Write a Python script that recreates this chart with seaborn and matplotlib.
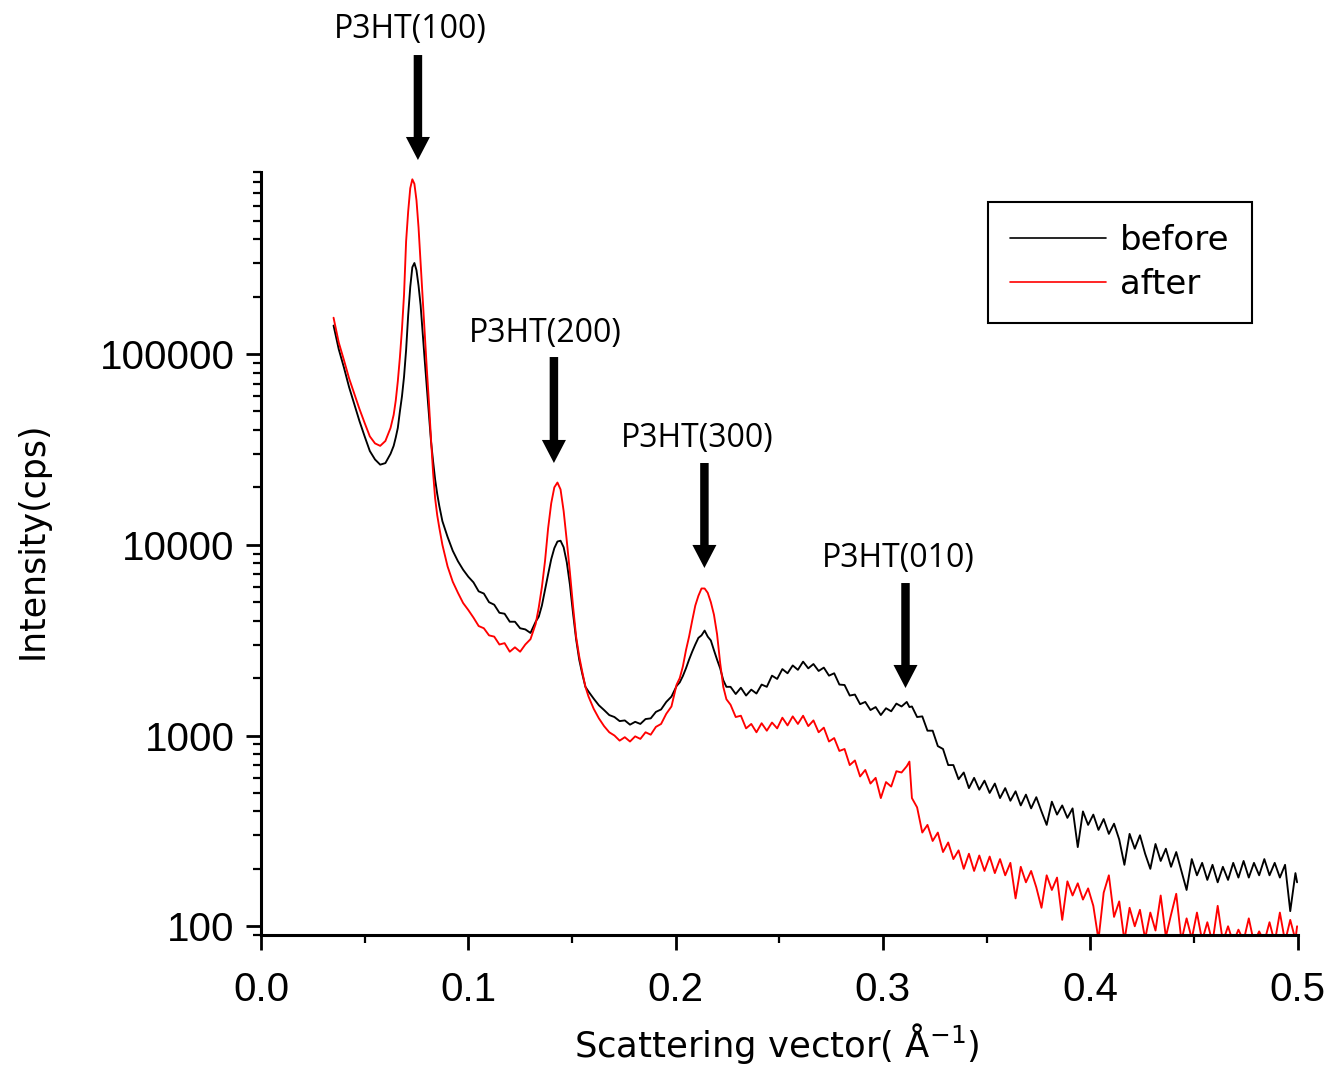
import matplotlib
matplotlib.use("Agg")
import numpy as np
import pandas as pd
import matplotlib.pyplot as plt
import seaborn as sns
from matplotlib.ticker import MultipleLocator, LogLocator, FuncFormatter, NullFormatter, FormatStrFormatter
from matplotlib.font_manager import FontProperties

# ---------------- data ----------------
q_values = [
    0.035, 0.0375, 0.040, 0.0425, 0.045, 0.0475, 0.050, 0.0525, 0.055, 0.0575, 0.060, 0.0625,
    0.064, 0.065, 0.066, 0.067, 0.068, 0.069, 0.070, 0.071, 0.072, 0.073, 0.074, 0.075,
    0.076, 0.077, 0.078, 0.079, 0.080, 0.081, 0.082, 0.083, 0.084, 0.085, 0.086,
    0.0875, 0.090, 0.0925, 0.095, 0.0975, 0.100, 0.1025, 0.105, 0.1075, 0.110,
    0.1125, 0.115, 0.1175, 0.120, 0.1225, 0.125, 0.1275, 0.130, 0.1325,
    0.134, 0.1355, 0.137, 0.1385, 0.140, 0.1415, 0.143, 0.1445,
    0.146, 0.1475, 0.149, 0.1505, 0.152, 0.1535, 0.155, 0.1565,
    0.158, 0.1605, 0.163, 0.1655, 0.168, 0.1705, 0.173, 0.1755, 0.178,
    0.1805, 0.183, 0.1855, 0.188, 0.1905, 0.193, 0.1955, 0.198, 0.2005,
    0.202, 0.2035, 0.205, 0.2065, 0.208, 0.2095, 0.211, 0.2125,
    0.214, 0.2155, 0.217, 0.2185, 0.220, 0.2215, 0.223, 0.2245,
    0.2265, 0.2290, 0.2315, 0.2340, 0.2365, 0.2390, 0.2415, 0.2440, 0.2465, 0.2490,
    0.2515, 0.2540, 0.2565, 0.2590, 0.2615, 0.2640, 0.2665, 0.2690, 0.2715, 0.2740,
    0.2765, 0.2790, 0.2815, 0.2840, 0.2865, 0.2890, 0.2915, 0.2940, 0.2965, 0.2990,
    0.3015, 0.3040, 0.3065, 0.3090, 0.3115, 0.3128, 0.3140, 0.3165, 0.3190, 0.3215, 0.3240,
    0.3265, 0.3290, 0.3315, 0.3340, 0.3365, 0.3390, 0.3415, 0.3440, 0.3465, 0.3490,
    0.3515, 0.3540, 0.3565, 0.3590, 0.3615, 0.3640, 0.3665, 0.3690, 0.3715, 0.3740,
    0.3765, 0.3790, 0.3815, 0.3840, 0.3865, 0.3890, 0.3915, 0.3940, 0.3965, 0.3990,
    0.4015, 0.4040, 0.4065, 0.4090, 0.4115, 0.4140, 0.4165, 0.4190, 0.4215, 0.4240,
    0.4265, 0.4290, 0.4315, 0.4340, 0.4365, 0.4390, 0.4415, 0.4440, 0.4465, 0.4490,
    0.4515, 0.4540, 0.4565, 0.4590, 0.4615, 0.4640, 0.4665, 0.4690, 0.4715, 0.4740,
    0.4765, 0.4790, 0.4815, 0.4840, 0.4865, 0.4890, 0.4915, 0.4940, 0.4965, 0.4990,
    0.4998,
]

before_cps = [
    141000, 106000, 85000, 67000, 54500, 44500, 37000, 31000, 28000, 26300, 26800, 30000,
    33000, 36500, 41000, 50000, 60000, 76000, 105000, 160000, 225000, 285000, 300000, 275000,
    228000, 180000, 128000, 92000, 67000, 48000, 35000, 27500, 22000, 18500, 16000,
    13300, 11000, 9300, 8200, 7400, 6800, 6350, 5700, 5550, 5000,
    4850, 4400, 4350, 3950, 3950, 3650, 3600, 3450, 3950,
    4200, 4800, 5800, 7000, 8400, 9600, 10400, 10500,
    9700, 8100, 6200, 4400, 3200, 2500, 2100, 1800,
    1700, 1560, 1440, 1360, 1280, 1250, 1190, 1200, 1140,
    1180, 1150, 1220, 1230, 1330, 1370, 1500, 1600, 1820,
    1900, 2050, 2250, 2500, 2750, 3000, 3250, 3350,
    3550, 3300, 3150, 2800, 2500, 2250, 1950, 1800,
    1800, 1650, 1780, 1620, 1740, 1660, 1850, 1800, 2060, 1980,
    2230, 2120, 2330, 2210, 2440, 2250, 2370, 2180, 2270, 2060,
    2120, 1850, 1840, 1620, 1640, 1460, 1500, 1360, 1410, 1280,
    1390, 1340, 1470, 1420, 1500, 1410, 1420, 1250, 1260, 1060, 1060,
    880, 850, 700, 700, 590, 640, 530, 600, 520, 580,
    500, 560, 470, 530, 455, 510, 430, 490, 415, 475,
    400, 340, 450, 385, 430, 370, 415, 260, 400, 340,
    385, 320, 365, 305, 345, 285, 210, 305, 255, 300,
    240, 200, 270, 220, 255, 205, 245, 195, 155, 225,
    185, 215, 175, 210, 170, 205, 175, 215, 180, 220,
    180, 215, 185, 225, 185, 215, 180, 210, 120, 190,
    170,
]

after_cps = [
    155000, 115000, 93000, 74500, 62000, 51500, 43500, 37000, 34000, 33000, 35000, 41000,
    48000, 57000, 72000, 96000, 135000, 205000, 390000, 560000, 740000, 824000, 780000, 640000,
    460000, 300000, 192000, 125000, 83000, 56000, 36000, 24000, 17500, 14300, 12300,
    10000, 7700, 6400, 5600, 4950, 4550, 4150, 3750, 3650, 3350,
    3300, 3000, 3050, 2750, 2900, 2750, 3000, 3200, 3850,
    4700, 6000, 8200, 12200, 16500, 20000, 21200, 19500,
    15000, 10500, 7200, 4800, 3300, 2600, 2150, 1800,
    1600, 1380, 1230, 1120, 1040, 1000, 940, 980, 930,
    990, 960, 1040, 1010, 1110, 1150, 1300, 1420, 1850,
    2000, 2300, 2800, 3300, 4000, 4800, 5400, 5900,
    5900, 5600, 5000, 4300, 3400, 2400, 1800, 1550,
    1450, 1250, 1270, 1090, 1150, 1040, 1160, 1060, 1170, 1090,
    1240, 1130, 1260, 1150, 1270, 1120, 1200, 1040, 1100, 930,
    970, 830, 850, 700, 740, 610, 660, 560, 600, 470,
    570, 540, 650, 640, 690, 730, 470, 420, 310, 340, 280,
    310, 245, 275, 225, 250, 200, 240, 195, 235, 195,
    232, 190, 225, 185, 215, 140, 205, 170, 195, 160,
    125, 185, 155, 180, 108, 172, 145, 168, 138, 158,
    128, 85, 150, 185, 112, 135, 84, 125, 100, 122,
    86, 118, 95, 145, 88, 115, 148, 84, 110, 86,
    118, 84, 105, 82, 128, 83, 100, 82, 96, 84,
    110, 82, 94, 83, 105, 82, 118, 83, 108, 85,
    100,
]

sample_names = ["before", "after"]
peak_labels = ["P3HT(100)", "P3HT(200)", "P3HT(300)", "P3HT(010)"]

# ---------------- layout / style ----------------
line_colors = {"before": "#000000", "after": "#ff0000"}
arrow_x = [0.0757, 0.1413, 0.2139, 0.3109]
arrow_tip = [1.0157, 0.6186, 0.4810, 0.3237]     # axes fraction
arrow_tail = [1.1533, 0.7575, 0.6186, 0.4613]    # axes fraction
label_x = [0.0718, 0.1373, 0.2106, 0.3075]
label_y = [1.1756, 0.7776, 0.6400, 0.4823]       # axes fraction (baseline)

sns.set_style("ticks")
plt.rcParams["font.family"] = ["Liberation Sans", "DejaVu Sans"]
plt.rcParams["mathtext.fontset"] = "dejavusans"
plt.rcParams["text.color"] = "black"
plt.rcParams["axes.labelcolor"] = "black"
plt.rcParams["xtick.color"] = "black"
plt.rcParams["ytick.color"] = "black"
plt.rcParams["axes.edgecolor"] = "black"

W, H = 1327, 1074
fig = plt.figure(figsize=(W / 100, H / 100), dpi=100)
ax = fig.add_axes([261 / W, 139 / H, 1036.5 / W, 763 / H])
ax.set_yscale("log")

n = len(q_values)
df = pd.DataFrame({
    "q": q_values * 2,
    "intensity": before_cps + after_cps,
    "sample": ["before"] * n + ["after"] * n,
})

sns.lineplot(data=df, x="q", y="intensity", hue="sample", hue_order=sample_names,
             palette=line_colors, estimator=None, sort=False, linewidth=1.35, ax=ax)

ax.set_xlim(0, 0.5)
ax.set_ylim(90, 900000)

# axes styling (Origin-like)
sns.despine(ax=ax)
for side in ["left", "bottom"]:
    ax.spines[side].set_linewidth(2.2)
    ax.spines[side].set_color("black")

ax.xaxis.set_major_locator(MultipleLocator(0.1))
ax.xaxis.set_minor_locator(MultipleLocator(0.05))
ax.xaxis.set_major_formatter(FormatStrFormatter("%.1f"))
ax.yaxis.set_major_locator(LogLocator(base=10, numticks=20))
ax.yaxis.set_minor_locator(LogLocator(base=10, subs=[2, 3, 4, 5, 6, 7, 8, 9], numticks=50))
ax.yaxis.set_major_formatter(FuncFormatter(lambda v, p: f"{v:.0f}"))
ax.yaxis.set_minor_formatter(NullFormatter())

ax.tick_params(axis="both", which="major", direction="out", length=11, width=2,
               color="black", labelsize=29, labelcolor="black", bottom=True, left=True)
ax.tick_params(axis="both", which="minor", direction="out", length=6, width=1.6,
               color="black", bottom=True, left=True)
ax.tick_params(axis="x", which="major", pad=15)
ax.tick_params(axis="y", which="major", pad=8)

label_font = ["DejaVu Sans"]
ax.set_xlabel("Scattering vector( Å$^{-1}$)", fontfamily=label_font, fontsize=25.5,
              va="baseline", color="black")
ax.xaxis.set_label_coords((777 - 261) / 1036.5, (935 - 1056.7) / 763)
ax.set_ylabel("Intensity(cps)", fontfamily=label_font, fontsize=25,
              va="baseline", color="black")
ax.yaxis.set_label_coords((43 - 261) / 1036.5, (935 - 540) / 763)

# legend
sns.move_legend(ax, "upper left", bbox_to_anchor=(988 / W, 1 - 202 / H),
                bbox_transform=fig.transFigure, title=None, frameon=True,
                fancybox=False, shadow=False, framealpha=1, edgecolor="black",
                borderpad=0.65, handlelength=2.82, handletextpad=0.41,
                labelspacing=0.32, borderaxespad=0,
                prop=FontProperties(family=label_font, size=24.5))
leg = ax.get_legend()
leg.get_frame().set_linewidth(1.5)
for h in leg.legend_handles:
    h.set_linewidth(1.2)
for t in leg.get_texts():
    t.set_color("black")

# peak annotations
xa = ax.get_xaxis_transform()
for i, lab in enumerate(peak_labels):
    ax.annotate("", xy=(arrow_x[i], arrow_tip[i]), xytext=(arrow_x[i], arrow_tail[i]),
                xycoords=xa, textcoords=xa, annotation_clip=False,
                arrowprops=dict(facecolor="black", edgecolor="black", linewidth=0,
                                width=6.1, headwidth=17.3, headlength=16.6, shrink=0))
    ax.text(label_x[i], label_y[i], lab, transform=xa, ha="center", va="baseline",
            fontsize=23, fontfamily=["Open Sans", "DejaVu Sans"], color="black",
            clip_on=False)

fig.savefig("out.png", dpi=100)
